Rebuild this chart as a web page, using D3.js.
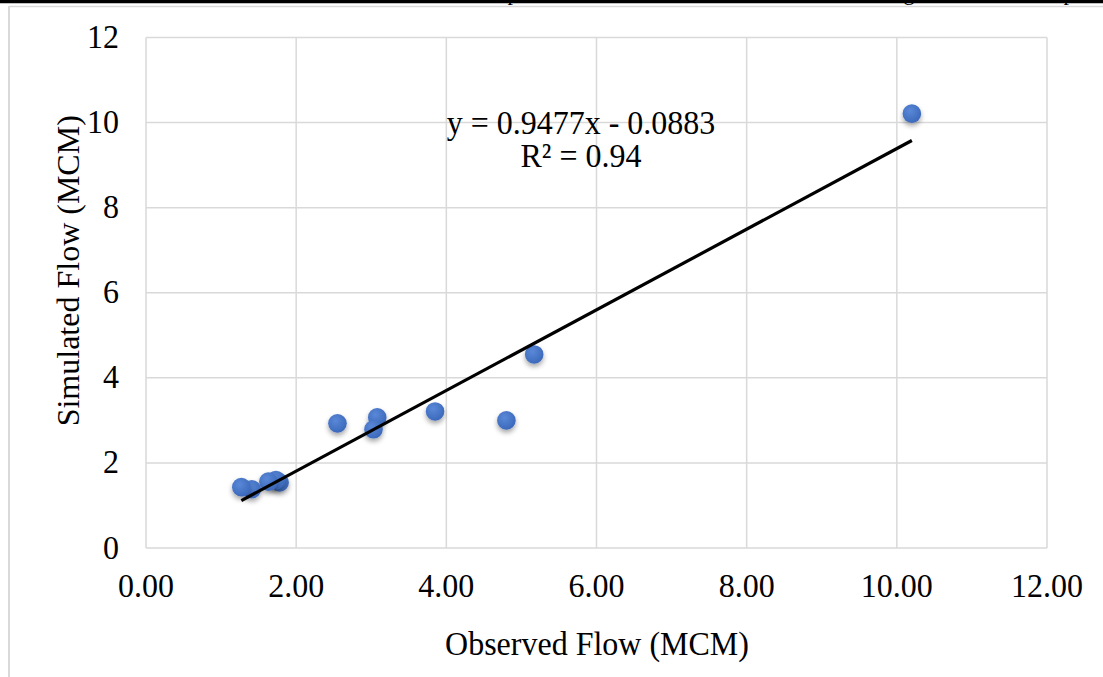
<!DOCTYPE html>
<html>
<head>
<meta charset="utf-8">
<script src="https://cdn.jsdelivr.net/npm/d3@7"></script>
<style>
  html, body { margin: 0; padding: 0; background: #fff; }
  svg { display: block; }
  text { font-family: "Liberation Serif", "Times New Roman", serif; fill: #000; }
</style>
</head>
<body>
<svg id="chart"></svg>
<script>
// observed vs simulated flow
const observed  = [10.20, 5.17, 4.80, 3.85, 3.08, 3.03, 2.55, 1.78, 1.73, 1.63, 1.41, 1.27];
const simulated = [10.21, 4.55, 3.00, 3.21, 3.07, 2.79, 2.93, 1.54, 1.60, 1.56, 1.38, 1.43];

const xTicks = [0, 2, 4, 6, 8, 10, 12];
const yTicks = [0, 2, 4, 6, 8, 10, 12];

// linear trend shown on the chart
const slope = 0.9477, intercept = -0.0883;
const eqLines = ["y = 0.9477x - 0.0883", "R\u00b2 = 0.94"];

const W = 1103, H = 677;
const plot = {left: 146, right: 1047, top: 37.5, bottom: 548};
const stretch = 1.06;   // text in the picture is a bit taller than wide

const svg = d3.select("#chart").attr("width", W).attr("height", H);

const x = d3.scaleLinear().domain([0, 12]).range([plot.left, plot.right]);
const y = d3.scaleLinear().domain([0, 12]).range([plot.bottom, plot.top]);

// helper: text with a slight vertical stretch
function label(sel, tx, ty, str, size, anchor) {
  return sel.append("text")
    .attr("transform", `translate(${tx},${ty}) scale(1,${stretch})`)
    .attr("text-anchor", anchor || "middle")
    .style("font-size", size + "px")
    .text(str);
}

// page bits: cut-off caption, rule and chart frame
const defs = svg.append("defs");
[["p", 513], ["g", 909], ["p", 1069]].forEach(([c, px]) => {
  svg.append("text").attr("x", px).attr("y", 0).attr("text-anchor", "middle")
    .style("font-size", "22px").text(c);
});
svg.append("line").attr("x1", 0).attr("x2", W).attr("y1", 1.5).attr("y2", 1.5)
  .attr("stroke", "#000").attr("stroke-width", 3.5);
svg.append("line").attr("x1", 9).attr("x2", W).attr("y1", 6.5).attr("y2", 6.5)
  .attr("stroke", "#d9d9d9").attr("stroke-width", 1.5);
svg.append("line").attr("x1", 9).attr("x2", 9).attr("y1", 6).attr("y2", H)
  .attr("stroke", "#d9d9d9").attr("stroke-width", 2);

// marker look: gradient + soft shadow
const grad = defs.append("radialGradient").attr("id", "dotGrad")
  .attr("cx", "40%").attr("cy", "35%").attr("r", "70%");
grad.append("stop").attr("offset", "0%").attr("stop-color", "#5a88d8");
grad.append("stop").attr("offset", "100%").attr("stop-color", "#3a67b9");
const sh = defs.append("filter").attr("id", "shadow")
  .attr("x", "-60%").attr("y", "-60%").attr("width", "220%").attr("height", "240%");
sh.append("feDropShadow").attr("dx", 0).attr("dy", 3).attr("stdDeviation", 2.5)
  .attr("flood-color", "#000").attr("flood-opacity", 0.35);

const g = svg.append("g");

// gridlines
g.append("g").selectAll("line").data(xTicks).join("line")
  .attr("x1", d => x(d)).attr("x2", d => x(d))
  .attr("y1", plot.top).attr("y2", plot.bottom)
  .attr("stroke", "#d9d9d9").attr("stroke-width", 1.5);
g.append("g").selectAll("line").data(yTicks).join("line")
  .attr("x1", plot.left).attr("x2", plot.right)
  .attr("y1", d => y(d)).attr("y2", d => y(d))
  .attr("stroke", "#d9d9d9").attr("stroke-width", 1.5);

// tick labels
xTicks.forEach(t => label(g, x(t), 597, d3.format(".2f")(t), 32));
yTicks.forEach(t => label(g, 119, y(t) + 10.5, String(t), 32, "end"));

// axis titles
label(g, 597, 655, "Observed Flow (MCM)", 32);
g.append("text")
  .attr("transform", `translate(79,${(plot.top + plot.bottom) / 2 - 22}) rotate(-90)`)
  .attr("text-anchor", "middle")
  .style("font-size", "32px")
  .text("Simulated Flow (MCM)");

// points
const pts = observed.map((o, i) => ({o, s: simulated[i]}));
g.append("g").selectAll("circle").data(pts).join("circle")
  .attr("cx", d => x(d.o)).attr("cy", d => y(d.s)).attr("r", 9.3)
  .attr("fill", "url(#dotGrad)").attr("filter", "url(#shadow)");

// trendline over the observed range
const xr = d3.extent(observed);
g.append("line")
  .attr("x1", x(xr[0])).attr("y1", y(slope * xr[0] + intercept))
  .attr("x2", x(xr[1])).attr("y2", y(slope * xr[1] + intercept))
  .attr("stroke", "#000").attr("stroke-width", 3.2);

// equation
eqLines.forEach((t, i) => label(g, 581, 134 + i * 33, t, 32));
</script>
</body>
</html>
